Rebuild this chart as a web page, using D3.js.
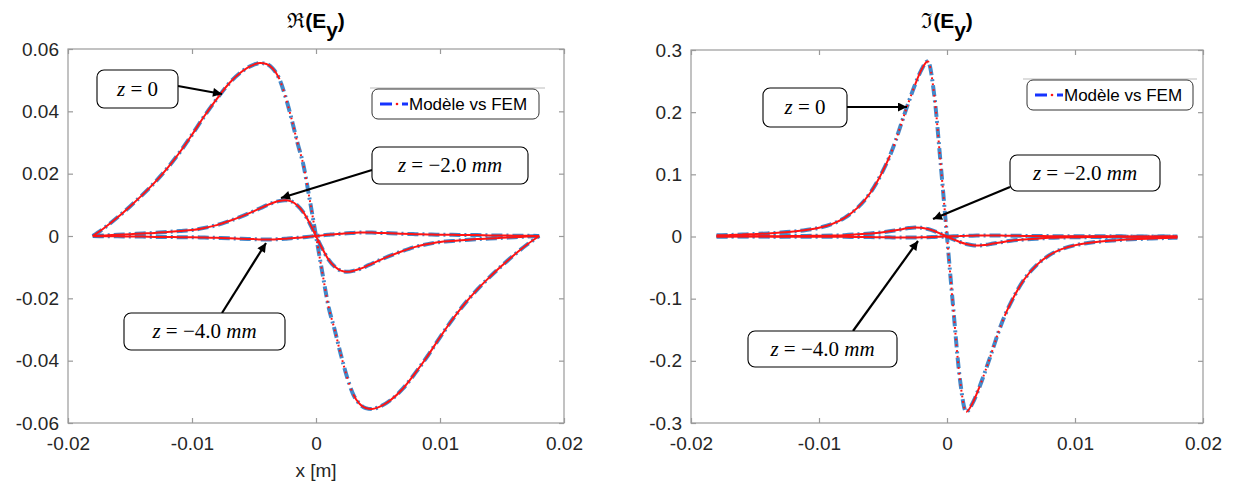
<!DOCTYPE html>
<html><head><meta charset="utf-8">
<script src="https://cdn.jsdelivr.net/npm/d3@7"></script>
<style>body{margin:0;background:#fff}svg{display:block}</style>
</head><body>
<svg id="c" width="1236" height="490"></svg>
<script>
// ---------- data ----------
const xTicks = [-0.02, -0.01, 0, 0.01, 0.02];
const xTickLabels = ["-0.02", "-0.01", "0", "0.01", "0.02"];
const reYTicks = [-0.06, -0.04, -0.02, 0, 0.02, 0.04, 0.06];
const reYTickLabels = ["-0.06", "-0.04", "-0.02", "0", "0.02", "0.04", "0.06"];
const imYTicks = [-0.3, -0.2, -0.1, 0, 0.1, 0.2, 0.3];
const imYTickLabels = ["-0.3", "-0.2", "-0.1", "0", "0.1", "0.2", "0.3"];

const xGrid = [-0.018,-0.017,-0.016,-0.015,-0.014,-0.013,-0.012,-0.011,-0.010,-0.009,-0.008,-0.007,-0.006,-0.005,-0.0045,-0.004,-0.0035,-0.003,-0.0025,-0.002,-0.0015,-0.001,-0.0005,0,
  0.0005,0.001,0.0015,0.002,0.0025,0.003,0.0035,0.004,0.0045,0.005,0.006,0.007,0.008,0.009,0.010,0.011,0.012,0.013,0.014,0.015,0.016,0.017,0.018];

const reZ0 = [0,0.0028,0.0060,0.0095,0.0132,0.0172,0.0217,0.0268,0.0325,0.0385,0.0440,0.0490,0.0527,0.0550,0.0555,0.0552,0.0538,0.0508,0.0452,0.0380,0.0300,0.0225,0.0115,0,
  -0.0115,-0.0225,-0.0300,-0.0380,-0.0452,-0.0508,-0.0538,-0.0552,-0.0555,-0.0550,-0.0527,-0.0490,-0.0440,-0.0385,-0.0325,-0.0268,-0.0217,-0.0172,-0.0132,-0.0095,-0.0060,-0.0028,0];
const reZ2 = [0,0.0002,0.0004,0.0006,0.0008,0.0010,0.0013,0.0016,0.0019,0.0026,0.0035,0.0048,0.0063,0.0080,0.0089,0.0098,0.0106,0.0112,0.0115,0.0111,0.0098,0.0075,0.0040,0,
  -0.0040,-0.0075,-0.0098,-0.0111,-0.0115,-0.0112,-0.0106,-0.0098,-0.0089,-0.0080,-0.0063,-0.0048,-0.0035,-0.0026,-0.0019,-0.0016,-0.0013,-0.0010,-0.0008,-0.0006,-0.0004,-0.0002,0];
const reZ4 = [0,-0.0001,-0.0001,-0.0002,-0.0002,-0.0003,-0.0003,-0.0004,-0.0004,-0.0005,-0.0006,-0.0007,-0.0009,-0.0010,-0.0011,-0.0011,-0.0011,-0.0010,-0.0009,-0.0007,-0.0006,-0.0004,-0.0002,0,
  0.0002,0.0004,0.0006,0.0007,0.0009,0.0010,0.0011,0.0011,0.0011,0.0010,0.0009,0.0007,0.0006,0.0005,0.0004,0.0004,0.0003,0.0003,0.0002,0.0002,0.0001,0.0001,0];

const imZ0 = [0.0020,0.0025,0.0032,0.0040,0.0050,0.0063,0.0080,0.0105,0.0140,0.0200,0.0300,0.0460,0.0700,0.1060,0.1280,0.1550,0.1860,0.2160,0.2440,0.2680,0.2820,0.2280,0.1180,0,
  -0.1180,-0.2280,-0.2820,-0.2680,-0.2440,-0.2160,-0.1860,-0.1550,-0.1280,-0.1060,-0.0700,-0.0460,-0.0300,-0.0200,-0.0140,-0.0105,-0.0080,-0.0063,-0.0050,-0.0040,-0.0032,-0.0025,-0.0020];
const imZ2 = [0,0.0002,0.0003,0.0004,0.0005,0.0006,0.0008,0.0010,0.0012,0.0016,0.0022,0.0035,0.0050,0.0068,0.0083,0.0100,0.0118,0.0135,0.0145,0.0140,0.0120,0.0088,0.0046,0,
  -0.0046,-0.0088,-0.0120,-0.0140,-0.0145,-0.0135,-0.0118,-0.0100,-0.0083,-0.0068,-0.0050,-0.0035,-0.0022,-0.0016,-0.0012,-0.0010,-0.0008,-0.0006,-0.0005,-0.0004,-0.0003,-0.0002,0];
const imZ4 = [0,-0.0001,-0.0001,-0.0002,-0.0002,-0.0003,-0.0003,-0.0004,-0.0004,-0.0005,-0.0006,-0.0008,-0.0010,-0.0012,-0.0014,-0.0015,-0.0016,-0.0016,-0.0015,-0.0014,-0.0011,-0.0008,-0.0004,0,
  0.0004,0.0008,0.0011,0.0014,0.0015,0.0016,0.0016,0.0015,0.0014,0.0012,0.0010,0.0008,0.0006,0.0005,0.0004,0.0004,0.0003,0.0003,0.0002,0.0002,0.0001,0.0001,0];

const annotationLabels = ["z = 0", "z = \u22122.0 mm", "z = \u22124.0 mm"];
const legendLabel = "Mod\u00e8le vs FEM";

// ---------- drawing ----------
const svg = d3.select("#c");
svg.append("rect").attr("width",1236).attr("height",490).attr("fill","#fff");
const defs = svg.append("defs");
defs.append("marker").attr("id","ah").attr("viewBox","0 0 10 10").attr("refX",10).attr("refY",5)
  .attr("markerWidth",11).attr("markerHeight",9).attr("markerUnits","userSpaceOnUse").attr("orient","auto")
  .append("path").attr("d","M0,0L10,5L0,10z").attr("fill","#000");

const AX = "#9a9a9a", TXT = "#262626", FONT = "'Liberation Sans', Arial, sans-serif";
const BLUE = "#2f7cc4", RED = "#ff1414";

function panel(p) {
  const g = svg.append("g");
  const x = d3.scaleLinear().domain([-0.02, 0.02]).range([p.left, p.right]);
  const y = d3.scaleLinear().domain(p.yDomain).range([p.bottom, p.top]);
  g.append("rect").attr("x",p.left).attr("y",p.top).attr("width",p.right-p.left).attr("height",p.bottom-p.top)
    .attr("fill","none").attr("stroke",AX).attr("stroke-width",1.2);
  const tl = 5;
  const axB = d3.axisBottom(x).tickValues(xTicks).tickFormat((d,i)=>xTickLabels[i]).tickSizeInner(-tl).tickSizeOuter(0).tickPadding(14);
  const axT = d3.axisTop(x).tickValues(xTicks).tickFormat("").tickSizeInner(-tl).tickSizeOuter(0);
  const axL = d3.axisLeft(y).tickValues(p.yTicks).tickFormat((d,i)=>p.yLabels[i]).tickSizeInner(-tl).tickSizeOuter(0).tickPadding(9);
  const axR = d3.axisRight(y).tickValues(p.yTicks).tickFormat("").tickSizeInner(-tl).tickSizeOuter(0);
  const style = s => { s.select(".domain").remove(); s.selectAll("line").attr("stroke",AX).attr("stroke-width",1.2);
    s.selectAll("text").attr("fill",TXT).style("font-family",FONT).style("font-size","19px"); };
  g.append("g").attr("transform",`translate(0,${p.bottom})`).call(axB).call(style);
  g.append("g").attr("transform",`translate(0,${p.top})`).call(axT).call(style);
  g.append("g").attr("transform",`translate(${p.left},0)`).call(axL).call(style);
  g.append("g").attr("transform",`translate(${p.right},0)`).call(axR).call(style);

  const line = d3.line().x((d,i)=>x(xGrid[i])).y(d=>y(d)).curve(d3.curveMonotoneX);
  // model: blue dash-dot
  p.series.forEach(s => {
    g.append("path").attr("d",line(s)).attr("fill","none").attr("stroke",BLUE).attr("stroke-width",4)
      .attr("stroke-dasharray","11,4,2,4").attr("opacity",0.9);
  });
  // FEM: red, continuous where flat, dotted where steep
  p.series.forEach(s => {
    const path = g.append("path").attr("d",line(s)).attr("fill","none").attr("stroke",RED).attr("stroke-width",2);
    const tmp = g.append("path").attr("fill","none");
    const cum = [0];
    for (let k = 1; k < s.length; k++) { tmp.attr("d", line(s.slice(0, k+1))); cum.push(tmp.node().getTotalLength()); }
    tmp.remove();
    const dash = [];
    for (let k = 0; k < s.length-1; k++) {
      const seg = Math.max(0.01, cum[k+1]-cum[k]);
      const slope = Math.abs((y(s[k+1])-y(s[k])) / (x(xGrid[k+1])-x(xGrid[k])));
      if (slope < 2.4) dash.push(seg, 0);
      else { const n = Math.max(1, Math.round(seg/5.5)); const u = seg/n; for (let j=0;j<n;j++) dash.push(1.8, u-1.8); }
    }
    path.attr("stroke-dasharray", dash.join(","));
  });

  const t = g.append("text").attr("x",(p.left+p.right)/2).attr("y",28).attr("text-anchor","middle")
    .attr("fill","#000").style("font-family",FONT).style("font-size","21px").style("font-weight","bold");
  t.append("tspan").text(p.sym).style("font-weight","normal").style("font-family","'DejaVu Serif', serif");
  t.append("tspan").text("(E");
  t.append("tspan").text("y").attr("dy",9);
  t.append("tspan").text(")").attr("dy",-9);

  const L = p.legend;
  g.append("line").attr("x1",L.lx1).attr("x2",L.lx2).attr("y1",L.y-1).attr("y2",L.y-1).attr("stroke","#bbb").attr("stroke-width",1.2);
  g.append("rect").attr("x",L.x).attr("y",L.y).attr("width",L.w).attr("height",L.h).attr("rx",6)
    .attr("fill","#fff").attr("stroke","#333").attr("stroke-width",1);
  const cy = L.y + L.h/2;
  g.append("line").attr("x1",L.x+8).attr("x2",L.x+20).attr("y1",cy).attr("y2",cy).attr("stroke","#1533ff").attr("stroke-width",3);
  g.append("circle").attr("cx",L.x+25).attr("cy",cy).attr("r",1.3).attr("fill",RED);
  g.append("line").attr("x1",L.x+30).attr("x2",L.x+36).attr("y1",cy).attr("y2",cy).attr("stroke","#1533ff").attr("stroke-width",3);
  g.append("text").attr("x",L.x+37).attr("y",cy).attr("dy","0.36em").text(legendLabel)
    .attr("fill","#000").style("font-family",FONT).style("font-size","17px");

  p.notes.forEach((n,i) => {
    g.append("line").attr("x1",n.ax).attr("y1",n.ay).attr("x2",n.tx).attr("y2",n.ty)
      .attr("stroke","#000").attr("stroke-width",2.2).attr("marker-end","url(#ah)");
    g.append("rect").attr("x",n.x).attr("y",n.y).attr("width",n.w).attr("height",n.h).attr("rx",7)
      .attr("fill","#fff").attr("stroke","#000").attr("stroke-width",1.1);
    const parts = annotationLabels[i].split(" ");
    const tx = g.append("text").attr("x",n.x+n.w/2).attr("y",n.y+n.h/2).attr("dy","0.33em").attr("text-anchor","middle")
      .attr("fill","#000").style("font-family","'Liberation Serif','DejaVu Serif',serif").style("font-size","21px");
    tx.append("tspan").text(parts[0]).style("font-style","italic");
    tx.append("tspan").text(" " + parts[1] + " ");
    tx.append("tspan").text(parts[2]);
    if (parts[3]) tx.append("tspan").text(" " + parts[3]).style("font-style","italic");
  });
}

panel({left:68, right:564, top:49, bottom:423, yDomain:[-0.06,0.06], yTicks:reYTicks, yLabels:reYTickLabels,
  series:[reZ0, reZ2, reZ4], sym:"\u211C",
  legend:{x:372, y:89, w:167, h:30, lx1:370, lx2:545},
  notes:[
    {x:97, y:70, w:81, h:38, ax:178, ay:86, tx:222, ty:94},
    {x:372, y:147, w:156, h:37, ax:372, ay:170, tx:281, ty:198},
    {x:124, y:313, w:161, h:37, ax:222, ay:313, tx:266, ty:243}
  ]});

panel({left:691, right:1203, top:50, bottom:423, yDomain:[-0.3,0.3], yTicks:imYTicks, yLabels:imYTickLabels,
  series:[imZ0, imZ2, imZ4], sym:"\u2111",
  legend:{x:1027, y:80, w:166, h:30, lx1:1023, lx2:1197},
  notes:[
    {x:763, y:88, w:84, h:39, ax:847, ay:107, tx:907, ty:107},
    {x:1010, y:155, w:150, h:36, ax:1010, ay:187, tx:933, ty:219},
    {x:748, y:331, w:149, h:36, ax:853, ay:331, tx:918, ty:241}
  ]});

svg.append("text").attr("x",316).attr("y",477).attr("text-anchor","middle").text("x [m]")
  .attr("fill",TXT).style("font-family",FONT).style("font-size","19px");
</script>
</body></html>
